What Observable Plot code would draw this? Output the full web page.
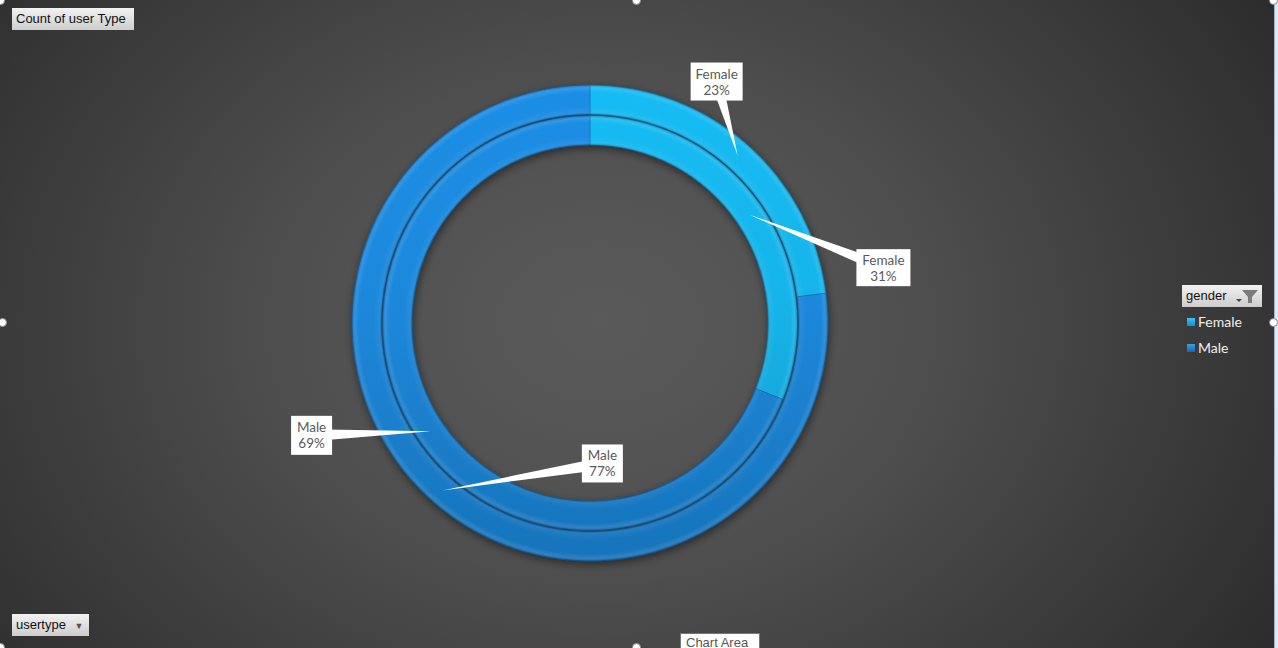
<!DOCTYPE html>
<html>
<head>
<meta charset="utf-8">
<script src="https://cdn.jsdelivr.net/npm/d3@7"></script>
<script src="https://cdn.jsdelivr.net/npm/@observablehq/plot@0.6"></script>
<style>
  body { margin: 0; background: #2b2b2b; overflow: hidden; }
  #frame {
    position: relative; width: 1278px; height: 648px; overflow: hidden;
    background: radial-gradient(ellipse 62% 95% at 47% 50%, #5a5a5a 0%, #4f4f4f 40%, #2c2c2c 100%);
  }
  #chart { position: absolute; left: 0; top: 0; }
  .btn {
    position: absolute; height: 22px; box-sizing: border-box;
    background: linear-gradient(#f2f2f2, #cdcdcd);
    font: 13px "Liberation Sans", sans-serif; color: #111;
    line-height: 22px; padding-left: 4px; white-space: nowrap;
  }
  .legend-item { position: absolute; left: 1187px; font: 14px Lato, sans-serif; color: #f0f0f0; }
  .legend-item i { display: inline-block; width: 8px; height: 8px; margin-right: 3px; vertical-align: 1px; }
  .handle { position: absolute; width: 9px; height: 9px; border-radius: 50%; background: #fff; border: 1px solid #8a8a8a; box-sizing: border-box; }
  #tip {
    position: absolute; left: 680px; top: 633px; width: 80px; height: 22px; box-sizing: border-box;
    background: #fff; border: 1px solid #767676; font: 13px "Liberation Sans", sans-serif; color: #555;
    padding-left: 5px; line-height: 18px;
  }
  #edge { position: absolute; left: 1274px; top: 0; width: 4px; height: 648px; background: #dce9f3; border-left: 1px solid #9fb6c8; box-sizing: border-box; }
</style>
</head>
<body>
<div id="frame">
  <div id="chart"></div>
  <div class="btn" style="left:12px;top:8px;width:122px;">Count of user Type</div>
  <div class="btn" style="left:12px;top:614px;width:77px;">usertype <span style="font-size:9px;color:#555;margin-left:5px">&#9660;</span></div>
  <div class="btn" style="left:1182px;top:285px;width:80px;">gender
    <svg width="26" height="18" style="position:absolute;left:52px;top:2px">
      <path d="M2,12 L8,12 L5,15 Z" fill="#444"/>
      <path d="M8,3 L24,3 L18,10 L18,16 L14,16 L14,10 Z" fill="#7c7c7c"/>
    </svg>
  </div>
  <div class="legend-item" style="top:313px;"><i style="background:linear-gradient(#3fc3f5,#0e8fd0)"></i>Female</div>
  <div class="legend-item" style="top:339px;"><i style="background:linear-gradient(#3a9fe8,#1466bb)"></i>Male</div>
  <div id="tip">Chart Area</div>
  <div id="edge"></div>
  <div class="handle" style="left:-4px;top:-4px"></div>
  <div class="handle" style="left:632px;top:-4px"></div>
  <div class="handle" style="left:1269px;top:-4px"></div>
  <div class="handle" style="left:-2px;top:318px"></div>
  <div class="handle" style="left:1269px;top:318px"></div>
  <div class="handle" style="left:-4px;top:643px"></div>
  <div class="handle" style="left:632px;top:643px"></div>
</div>
<script>
// Count of user Type by gender, two usertype rings (outer / inner)
const genders = ["Female", "Male"];
const outerPct = [23, 77];
const innerPct = [31, 69];

const color = Plot.scale({color: {type: "categorical", domain: genders, range: ["#16b4ea", "#1c88dc"]}});

const rings = [
  {name: "outer", values: outerPct, r0: 208.5, r1: 238},
  {name: "inner", values: innerPct, r0: 178, r1: 207.5}
];

// where each callout box sits relative to its slice centroid: [dx, dy, w, h]
const calloutLayout = {
  "outer-Female": [-21, -74, 52, 38],
  "inner-Female": [134, 53, 54, 37],
  "inner-Male": [-119, 4, 41, 39],
  "outer-Male": [160, -27, 41, 38]
};

function donut(index, scales, values, dimensions) {
  const cx = 590, cy = 323, R = 238;
  const g = d3.create("svg:g");
  const defs = g.append("defs");

  const f = defs.append("filter").attr("id", "shadow").attr("x", "-20%").attr("y", "-20%").attr("width", "140%").attr("height", "140%");
  f.append("feDropShadow").attr("dx", 1).attr("dy", 3).attr("stdDeviation", 4)
    .attr("flood-color", "#000").attr("flood-opacity", 0.5);

  // gradients live in the ring group's local space (centre at 0,0)
  genders.forEach(k => {
    const base = color.apply(k);
    const lg = defs.append("linearGradient").attr("id", "fill-" + k)
      .attr("gradientUnits", "userSpaceOnUse")
      .attr("x1", 0).attr("y1", -R).attr("x2", 0).attr("y2", R);
    lg.append("stop").attr("offset", 0).attr("stop-color", d3.color(base).brighter(0.12));
    lg.append("stop").attr("offset", 0.45).attr("stop-color", base);
    lg.append("stop").attr("offset", 1).attr("stop-color", d3.color(base).darker(0.45));
  });

  rings.forEach(r => {
    const rg = defs.append("radialGradient").attr("id", "bevel-" + r.name)
      .attr("gradientUnits", "userSpaceOnUse").attr("cx", 0).attr("cy", 0).attr("r", R);
    const a = r.r0 / R, b = r.r1 / R;
    [[0, "#000", 0.25], [a, "#000", 0.25], [a + 0.012, "#fff", 0.05], [a + 0.035, "#fff", 0],
     [b - 0.03, "#fff", 0], [b - 0.012, "#fff", 0.1], [b, "#000", 0.22]]
      .forEach(([o, c, op]) => rg.append("stop").attr("offset", o).attr("stop-color", c).attr("stop-opacity", op));
  });

  const pie = d3.pie().sort(null).startAngle(0).endAngle(2 * Math.PI);
  const ringG = g.append("g").attr("transform", `translate(${cx},${cy})`).attr("filter", "url(#shadow)");
  const callouts = [];

  rings.forEach(r => {
    const arc = d3.arc().innerRadius(r.r0).outerRadius(r.r1);
    const slices = pie(r.values);
    slices.forEach((s, i) => {
      const k = genders[i];
      ringG.append("path").attr("d", arc(s)).attr("fill", `url(#fill-${k})`)
        .attr("stroke", "#0d5a9c").attr("stroke-width", 0.7).attr("stroke-opacity", 0.55);
      ringG.append("path").attr("d", arc(s)).attr("fill", `url(#bevel-${r.name})`);
      const [x, y] = arc.centroid(s);
      callouts.push({key: `${r.name}-${k}`, label: k, pct: r.values[i], x: cx + x, y: cy + y});
    });
  });

  const cg = g.append("g");
  callouts.forEach(c => {
    const [dx, dy, w, h] = calloutLayout[c.key];
    const bx = c.x + dx, by = c.y + dy;
    const len = Math.hypot(bx - c.x, by - c.y);
    const nx = -(by - c.y) / len * 6, ny = (bx - c.x) / len * 6;
    cg.append("path")
      .attr("d", `M${c.x},${c.y}L${bx + nx},${by + ny}L${bx - nx},${by - ny}Z`)
      .attr("fill", "#fff");
    cg.append("rect").attr("x", bx - w / 2).attr("y", by - h / 2).attr("width", w).attr("height", h).attr("fill", "#fff");
    const t = cg.append("text").attr("text-anchor", "middle").attr("fill", "#5a5a5a")
      .style("font", "13.5px Lato, sans-serif");
    t.append("tspan").attr("x", bx).attr("y", by - 3).text(c.label);
    t.append("tspan").attr("x", bx).attr("y", by + 13).text(c.pct + "%");
  });

  return g.node();
}

const chart = Plot.plot({
  width: 1278,
  height: 648,
  margin: 0,
  style: {background: "transparent", overflow: "visible"},
  marks: [donut]
});

d3.select("#chart").append(() => chart);
</script>
</body>
</html>
